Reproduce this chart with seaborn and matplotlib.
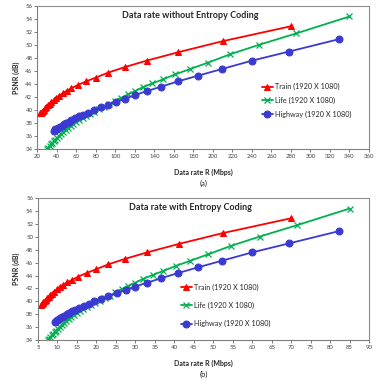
import numpy as np
import pandas as pd
import seaborn as sns
import matplotlib.pyplot as plt

# ---- data ----
# (a) without entropy coding
train_rate_a = [280, 210, 164.5, 132, 109.5, 92.5, 80, 70, 61.5, 55, 50, 45.8, 42.2, 39.2,
                36.6, 34.4, 32.5, 30.8, 29.3, 28, 26.8, 25.7, 24.7, 23.8, 23]
train_psnr_a = [52.9, 50.6, 48.9, 47.6, 46.6, 45.75, 45.0, 44.4, 43.85, 43.35, 42.95, 42.55,
                42.2, 41.85, 41.5, 41.2, 40.95, 40.7, 40.45, 40.25, 40.05, 39.9, 39.75, 39.6, 39.5]
life_rate_a = [340, 285.5, 247.5, 218, 195, 176.5, 161.5, 148.5, 138, 128, 120, 113, 106,
               99.6, 93.8, 88.3, 83, 78.5, 74, 70, 66.5, 63, 60, 57, 54, 51.5, 49, 46.5,
               44.5, 42.5, 40.5, 38.5, 37, 35.5, 34, 32.5, 31, 30]
life_psnr_a = [54.4, 51.8, 50.05, 48.6, 47.3, 46.3, 45.5, 44.7, 44.1, 43.5, 42.9, 42.4, 41.9,
               41.4, 40.9, 40.5, 40.1, 39.75, 39.4, 39.05, 38.75, 38.45, 38.15, 37.85, 37.55,
               37.25, 36.95, 36.65, 36.35, 36.05, 35.75, 35.45, 35.2, 34.95, 34.7, 34.45, 34.2, 34.0]
hw_rate_a = [329, 278, 240, 209, 185, 164, 147, 132, 120, 110, 101, 92, 85, 78, 72, 67,
             62.5, 58.5, 55, 52, 49.5, 47, 45, 43, 41.5, 40, 38.5, 37]
hw_psnr_a = [50.9, 49.0, 47.6, 46.3, 45.3, 44.4, 43.6, 42.9, 42.3, 41.75, 41.25, 40.8, 40.4,
             40.0, 39.6, 39.3, 39.0, 38.7, 38.45, 38.2, 38.0, 37.8, 37.6, 37.45, 37.3, 37.15,
             37.0, 36.8]

# (b) with entropy coding
train_rate_b = [70, 52.5, 41.1, 33, 27.4, 23.1, 20, 17.5, 15.4, 13.8, 12.5, 11.45, 10.55,
                9.8, 9.15, 8.6, 8.1, 7.7, 7.3, 7.0, 6.7, 6.4, 6.2, 5.95, 5.75]
train_psnr_b = train_psnr_a
life_rate_b = [85, 71.4, 61.9, 54.5, 48.7, 44.1, 40.4, 37.1, 34.5, 32, 30, 28.2, 26.5,
               24.9, 23.4, 22.1, 20.8, 19.6, 18.5, 17.5, 16.6, 15.7, 15, 14.2, 13.5, 12.9,
               12.2, 11.6, 11.1, 10.6, 10.1, 9.6, 9.25, 8.9, 8.5, 8.1, 7.75, 7.5]
life_psnr_b = life_psnr_a
hw_rate_b = [82.3, 69.5, 60, 52.2, 46.2, 41, 36.7, 33, 30, 27.5, 25.2, 23, 21.2, 19.5, 18,
             16.7, 15.6, 14.6, 13.7, 13, 12.4, 11.7, 11.2, 10.7, 10.4, 10, 9.6, 9.25]
hw_psnr_b = hw_psnr_a

series = ['Train (1920 X 1080)', 'Life (1920 X 1080)', 'Highway (1920 X 1080)']


def make_df(rates, psnrs):
    frames = []
    for name, r, p in zip(series, rates, psnrs):
        frames.append(pd.DataFrame({'rate': r, 'psnr': p, 'seq': name}))
    return pd.concat(frames, ignore_index=True)


df_a = make_df([train_rate_a, life_rate_a, hw_rate_a], [train_psnr_a, life_psnr_a, hw_psnr_a])
df_b = make_df([train_rate_b, life_rate_b, hw_rate_b], [train_psnr_b, life_psnr_b, hw_psnr_b])

sns.set_style('white')
plt.rcParams['font.family'] = ['Lato', 'DejaVu Sans']

palette = {series[0]: '#FF0000', series[1]: '#00B050', series[2]: '#3A3AD2'}
markers = {series[0]: '^', series[1]: 'x', series[2]: 'o'}

fig = plt.figure(figsize=(3.81, 3.81), dpi=100)
ax_a = fig.add_axes([0.098, 0.609, 0.8705, 0.375])
ax_b = fig.add_axes([0.0997, 0.1076, 0.8688, 0.372])


def draw(ax, df, xlim, xstep, title, tag, leg_pos, leg_space):
    for name in series:
        sub = df[df['seq'] == name]
        mk = markers[name]
        if mk == 'x':
            kw = dict(markersize=4.2, markeredgewidth=0.9)
        else:
            kw = dict(markersize=5)
        sns.lineplot(data=sub, x='rate', y='psnr', ax=ax, sort=False, color=palette[name],
                     marker=mk, linewidth=1.3, markeredgecolor=palette[name], label=name,
                     **kw)
    ax.set_xlim(*xlim)
    ax.set_ylim(34, 56)
    ax.set_xticks(np.arange(xlim[0], xlim[1] + 0.1, xstep))
    ax.set_yticks(np.arange(34, 57, 2))
    ax.tick_params(axis='both', labelsize=4.3, colors='#444444', length=2, width=0.5,
                   direction='out', pad=1.5, bottom=True, left=True)
    for s in ['top', 'right']:
        ax.spines[s].set_color('#8c8c8c')
        ax.spines[s].set_linewidth(0.8)
    for s in ['left', 'bottom']:
        ax.spines[s].set_color('#808080')
        ax.spines[s].set_linewidth(0.8)
    ax.set_xlabel('Data rate R (Mbps)', fontsize=5, fontweight='bold', labelpad=7)
    ax.set_ylabel('PSNR (dB)', fontsize=5, fontweight='bold', labelpad=4)
    ax.text(0.46, 0.935, title, transform=ax.transAxes, ha='center', va='center',
            fontsize=6.5, fontweight='bold')
    ax.text(0.5, -0.24, tag, transform=ax.transAxes, ha='center', va='center', fontsize=5.5)
    ax.legend(loc='center left', bbox_to_anchor=leg_pos, frameon=False, fontsize=5.2,
              handlelength=1.6, handletextpad=0.2, labelspacing=leg_space, borderpad=0)


draw(ax_a, df_a, (20, 360), 20, 'Data rate without Entropy Coding', '(a)', (0.665, 0.34), 0.9)
draw(ax_b, df_b, (5, 90), 5, 'Data rate with Entropy Coding', '(b)', (0.42, 0.243), 1.5)

fig.savefig('out.png', dpi=100)
